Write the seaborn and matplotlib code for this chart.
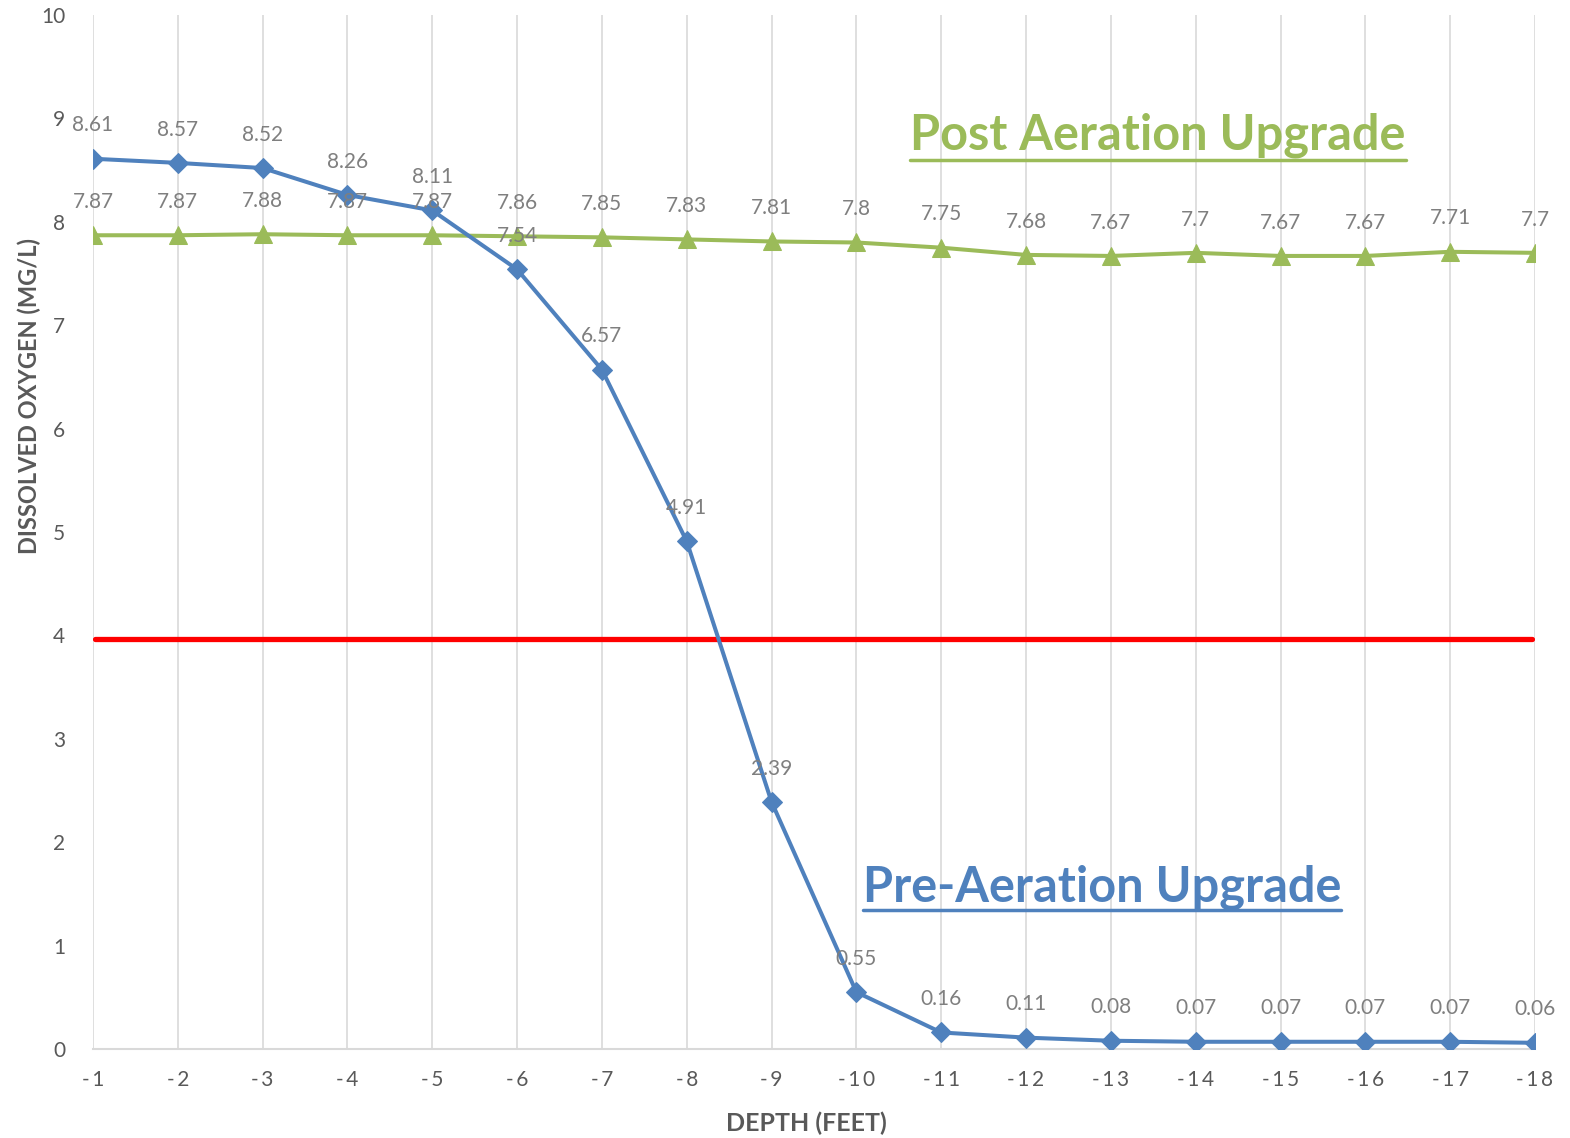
import matplotlib
matplotlib.use("Agg")
import matplotlib.pyplot as plt
import seaborn as sns
import pandas as pd
from matplotlib.lines import Line2D

# Data
depth_ft = list(range(1, 19))
depth_labels = [f"-{d}" for d in depth_ft]
pre_aeration = [8.61, 8.57, 8.52, 8.26, 8.11, 7.54, 6.57, 4.91, 2.39, 0.55,
                0.16, 0.11, 0.08, 0.07, 0.07, 0.07, 0.07, 0.06]
post_aeration = [7.87, 7.87, 7.88, 7.87, 7.87, 7.86, 7.85, 7.83, 7.81, 7.8,
                 7.75, 7.68, 7.67, 7.7, 7.67, 7.67, 7.71, 7.7]
threshold = 3.97

BLUE = "#4f81bd"
GREEN = "#9bbb59"
RED = "#ff0000"
GRAY_TEXT = "#595959"
LABEL_GRAY = "#7f7f7f"
GRID = "#d9d9d9"

sns.set_style("white")
plt.rcParams["font.family"] = ["Lato", "DejaVu Sans"]

df = pd.DataFrame({"depth": depth_ft, "pre": pre_aeration, "post": post_aeration})

fig = plt.figure(figsize=(15.7, 11.38), dpi=100)
ax = fig.add_axes([0.0592, 0.0782, 0.9185, 0.9086])

# threshold line
ax.plot([depth_ft[0] + 0.02, depth_ft[-1] - 0.03], [threshold, threshold],
        color=RED, linewidth=3.8, zorder=2)

sns.lineplot(data=df, x="depth", y="post", ax=ax, color=GREEN, linewidth=2.9,
             marker="^", markersize=13, markeredgecolor=GREEN, zorder=3)
sns.lineplot(data=df, x="depth", y="pre", ax=ax, color=BLUE, linewidth=2.9,
             marker="D", markersize=10, markeredgecolor=BLUE, zorder=4)

# data labels
for x, y in zip(depth_ft, post_aeration):
    ax.annotate(f"{y:g}", (x, y), xytext=(0, 24), textcoords="offset points",
                ha="center", va="center", fontsize=15, color=LABEL_GRAY, zorder=5)
for x, y in zip(depth_ft, pre_aeration):
    ax.annotate(f"{y:g}", (x, y), xytext=(0, 24), textcoords="offset points",
                ha="center", va="center", fontsize=15, color=LABEL_GRAY, zorder=5)

ax.set_xlim(1, 18)
ax.set_ylim(0, 10)
ax.set_xticks(depth_ft)
ax.set_xticklabels(["\u2009".join(lbl) for lbl in depth_labels])
ax.set_yticks(range(0, 11))
ax.tick_params(axis="x", length=0, pad=15, labelsize=15, labelcolor=GRAY_TEXT)
ax.tick_params(axis="y", length=0, pad=20, labelsize=15, labelcolor=GRAY_TEXT)

ax.grid(axis="x", color=GRID, linewidth=1.2)
ax.grid(axis="y", visible=False)
for side in ["top", "right", "left"]:
    ax.spines[side].set_visible(False)
ax.spines["bottom"].set_color(GRID)
ax.spines["bottom"].set_linewidth(1.5)

ax.set_xlabel("DEPTH (FEET)", fontsize=18, fontweight="bold", color=GRAY_TEXT, va="center")
ax.set_ylabel("DISSOLVED OXYGEN (MG/L)", fontsize=17, fontweight="bold", color=GRAY_TEXT, va="center")
ax.xaxis.set_label_coords(0.4945, -0.0716)
ax.yaxis.set_label_coords(-0.0444, 0.632)

# series callouts with underline
t_post = fig.text(1158 / 1570, 1 - 135 / 1138, "Post Aeration Upgrade", fontsize=35,
                  fontweight="bold", color=GREEN, ha="center", va="center")
t_pre = fig.text(1102 / 1570, 1 - 887 / 1138, "Pre-Aeration Upgrade", fontsize=35,
                 fontweight="bold", color=BLUE, ha="center", va="center")

fig.canvas.draw()
renderer = fig.canvas.get_renderer()
for t, col, uy in [(t_post, GREEN, 160), (t_pre, BLUE, 910)]:
    bb = t.get_window_extent(renderer)
    x0, x1 = bb.x0 / fig.bbox.width, bb.x1 / fig.bbox.width
    y = 1 - uy / 1138
    fig.add_artist(Line2D([x0, x1], [y, y], color=col, linewidth=2.5,
                          transform=fig.transFigure))

fig.savefig("out.png", dpi=100, facecolor="white")
